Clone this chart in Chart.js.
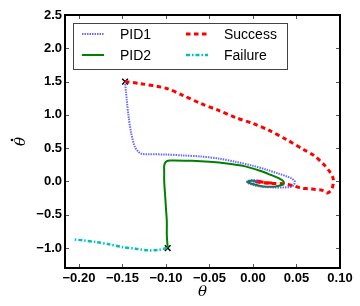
<!DOCTYPE html>
<html>
<head>
<meta charset="utf-8">
<script src="https://cdn.jsdelivr.net/npm/chart.js@4"></script>
<style>
  html, body { margin: 0; padding: 0; background: #fff; }
</style>
</head>
<body>
<canvas id="myChart" width="360" height="306"></canvas>
<script>
// trajectories in phase space: [theta, thetaDot]
const pid1 = [
  [-0.147, 1.50], [-0.146, 1.35], [-0.145, 1.22], [-0.143, 0.98], [-0.140, 0.73],
  [-0.136, 0.53], [-0.132, 0.45], [-0.128, 0.415], [-0.12, 0.408], [-0.10, 0.405],
  [-0.08, 0.39], [-0.06, 0.375], [-0.04, 0.345], [-0.02, 0.295], [0.0, 0.235],
  [0.016, 0.175], [0.03, 0.115], [0.039, 0.075], [0.045, 0.04], [0.048, 0.0],
  [0.047, -0.05], [0.044, -0.08], [0.035, -0.09], [0.025, -0.09], [0.015, -0.085],
  [0.005, -0.07], [-0.003, -0.04], [-0.007, -0.01], [-0.004, 0.015], [0.002, 0.02],
  [0.006, 0.0], [0.004, -0.01], [0.0, 0.0]
];
const pid2 = [
  [-0.098, -1.0], [-0.099, -0.8], [-0.099, -0.6], [-0.100, -0.4], [-0.101, -0.2],
  [-0.102, 0.0], [-0.102, 0.15], [-0.102, 0.24], [-0.100, 0.295], [-0.096, 0.313],
  [-0.09, 0.315], [-0.07, 0.31], [-0.05, 0.295], [-0.03, 0.27], [-0.01, 0.23],
  [0.008, 0.16], [0.02, 0.10], [0.03, 0.045], [0.035, 0.0], [0.035, -0.04],
  [0.03, -0.065], [0.023, -0.08], [0.012, -0.075], [0.003, -0.05], [-0.005, -0.02],
  [-0.006, 0.0], [-0.002, 0.01], [0.003, 0.005], [0.0, 0.0]
];
const success = [
  [-0.147, 1.5], [-0.13, 1.47], [-0.10, 1.40], [-0.08, 1.29], [-0.06, 1.17],
  [-0.04, 1.07], [-0.02, 0.96], [0.0, 0.87], [0.018, 0.77], [0.039, 0.625],
  [0.058, 0.48], [0.07, 0.39], [0.081, 0.26], [0.088, 0.15], [0.092, 0.05],
  [0.092, -0.05], [0.090, -0.13], [0.085, -0.175], [0.079, -0.13], [0.072, -0.12],
  [0.064, -0.11], [0.055, -0.10], [0.048, -0.07], [0.040, -0.045], [0.030, -0.03],
  [0.020, -0.03], [0.012, -0.02], [0.005, -0.01], [0.002, 0.01], [0.008, 0.0],
  [0.015, -0.02], [0.022, -0.025], [0.01, -0.01], [0.003, 0.0]
];
const failure = [
  [-0.099, -1.0], [-0.11, -1.03], [-0.12, -1.035], [-0.135, -1.01], [-0.15, -0.985],
  [-0.165, -0.945], [-0.18, -0.91], [-0.195, -0.885], [-0.207, -0.87]
];
const starts = [[-0.147, 1.5], [-0.098, -1.0]];

const xTicks = [-0.20, -0.15, -0.10, -0.05, 0.00, 0.05, 0.10];
const yTicks = [-1.0, -0.5, 0.0, 0.5, 1.0, 1.5, 2.0, 2.5];

const pts = arr => arr.map(p => ({ x: p[0], y: p[1] }));
const fmt = (v, d) => (v < 0 ? '\u2212' : '') + Math.abs(v).toFixed(d);
const tickFont = { family: 'Liberation Sans', size: 13, weight: 'bold' };

const lineSet = (label, arr, color, width, dash) => ({
  label: label,
  data: pts(arr),
  showLine: true,
  borderColor: color,
  backgroundColor: color,
  borderWidth: width,
  borderDash: dash,
  pointRadius: 0,
  tension: 0.3,
  fill: false
});

const data = {
  datasets: [
    lineSet('PID1', pid1, 'rgba(80, 80, 255, 0.85)', 2, [1.5, 1]),
    lineSet('PID2', pid2, '#008000', 2, []),
    lineSet('Success', success, '#ff0000', 3, [4.5, 3.5]),
    lineSet('Failure', failure, '#00bfbf', 2.5, [4, 2, 1.5, 2]),
    {
      label: 'start',
      data: pts(starts),
      showLine: false,
      pointStyle: 'crossRot',
      pointRadius: 4,
      borderColor: '#000',
      borderWidth: 1.5
    }
  ]
};

// frame, inward ticks, axis titles and two-column legend
const decor = {
  id: 'decor',
  afterDraw(chart) {
    const ctx = chart.ctx;
    const a = chart.chartArea;
    const xs = chart.scales.x, ys = chart.scales.y;
    ctx.save();
    ctx.strokeStyle = '#555';
    ctx.lineWidth = 1;
    ctx.beginPath();
    xTicks.forEach(v => {
      const px = Math.round(xs.getPixelForValue(v)) + 0.5;
      ctx.moveTo(px, a.bottom); ctx.lineTo(px, a.bottom - 4);
      ctx.moveTo(px, a.top); ctx.lineTo(px, a.top + 4);
    });
    yTicks.forEach(v => {
      const py = Math.round(ys.getPixelForValue(v)) + 0.5;
      ctx.moveTo(a.left, py); ctx.lineTo(a.left + 4, py);
      ctx.moveTo(a.right, py); ctx.lineTo(a.right - 4, py);
    });
    ctx.stroke();
    ctx.strokeStyle = '#000';
    ctx.lineWidth = 2;
    ctx.strokeRect(a.left, a.top, a.right - a.left, a.bottom - a.top);

    ctx.fillStyle = '#000';
    ctx.font = 'italic 15px "DejaVu Serif"';
    ctx.textAlign = 'center';
    ctx.textBaseline = 'middle';
    ctx.fillText('\u03b8', (a.left + a.right) / 2, 292);
    ctx.translate(20, (a.top + a.bottom) / 2);
    ctx.rotate(-Math.PI / 2);
    ctx.fillText('\u03b8', 0, 1);
    ctx.beginPath();
    ctx.arc(1.5, -8, 1.3, 0, Math.PI * 2);
    ctx.fill();
    ctx.setTransform(1, 0, 0, 1, 0, 0);

    // legend
    ctx.fillStyle = '#fff';
    ctx.fillRect(73, 23, 214, 46);
    ctx.strokeStyle = '#444';
    ctx.lineWidth = 1;
    ctx.strokeRect(73.5, 23.5, 214, 46);
    const slots = [[82, 34], [82, 55], [186, 34], [186, 55]];
    ctx.font = '14px "Liberation Sans"';
    ctx.textAlign = 'left';
    ctx.textBaseline = 'middle';
    data.datasets.slice(0, 4).forEach((ds, i) => {
      const [lx, ly] = slots[i];
      ctx.strokeStyle = ds.borderColor;
      ctx.lineWidth = ds.borderWidth;
      ctx.setLineDash(ds.borderDash);
      ctx.beginPath();
      ctx.moveTo(lx, ly); ctx.lineTo(lx + 22, ly);
      ctx.stroke();
      ctx.setLineDash([]);
      ctx.fillStyle = '#000';
      ctx.fillText(ds.label, lx + 38, ly + 1);
    });
    ctx.restore();
  }
};

const config = {
  type: 'scatter',
  data: data,
  options: {
    responsive: false,
    animation: false,
    devicePixelRatio: 1,
    layout: { padding: { top: 15, right: 20, left: 0, bottom: 0 } },
    plugins: {
      legend: { display: false },
      tooltip: { enabled: false }
    },
    scales: {
      x: {
        type: 'linear',
        min: -0.216,
        max: 0.1,
        grid: { display: false, drawTicks: false, tickLength: 0 },
        border: { display: false },
        afterBuildTicks: s => { s.ticks = xTicks.map(v => ({ value: v })); },
        afterFit: s => { s.height = 38; },
        ticks: {
          font: tickFont,
          color: '#000',
          padding: 3,
          maxRotation: 0,
          autoSkip: false,
          callback: v => fmt(v, 2)
        }
      },
      y: {
        min: -1.3,
        max: 2.5,
        grid: { display: false, drawTicks: false, tickLength: 0 },
        border: { display: false },
        afterBuildTicks: s => { s.ticks = yTicks.map(v => ({ value: v })); },
        afterFit: s => { s.width = 65; },
        ticks: {
          font: tickFont,
          color: '#000',
          padding: 3,
          autoSkip: false,
          callback: v => fmt(v, 1)
        }
      }
    }
  },
  plugins: [decor]
};

const myChart = new Chart(document.getElementById('myChart'), config);
</script>
</body>
</html>
